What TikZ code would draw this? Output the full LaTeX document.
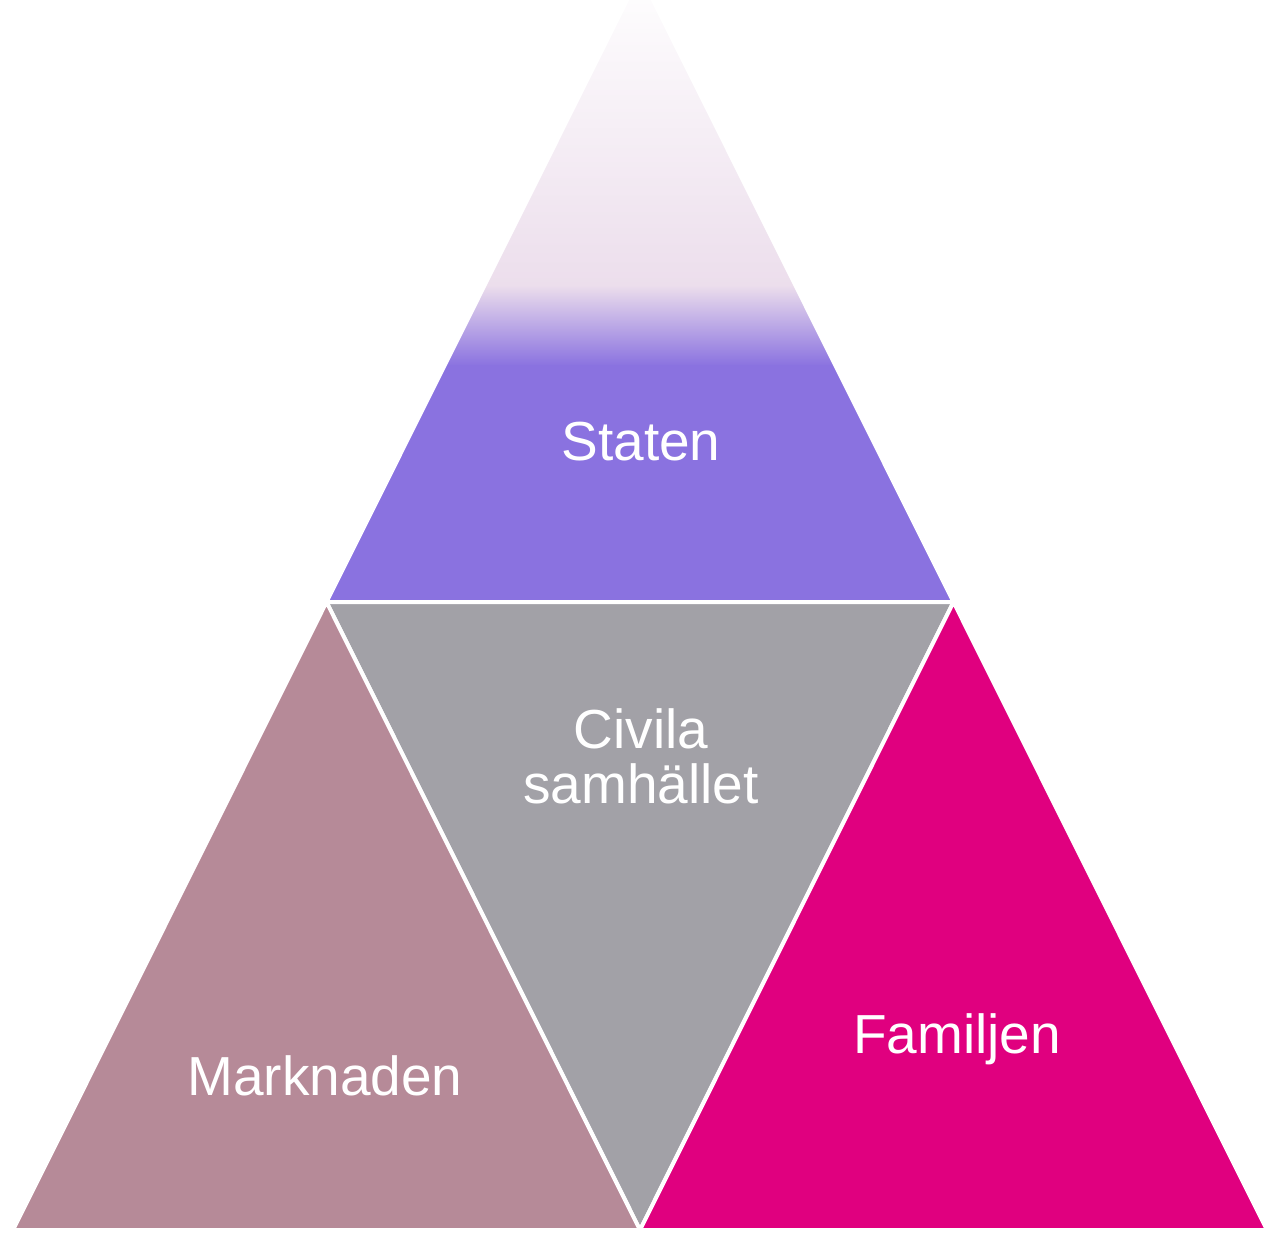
\documentclass[tikz,border=0pt]{standalone}
\usepackage{fontspec}
\setmainfont{Liberation Sans}
\definecolor{staten}{RGB}{138,114,224}
\definecolor{pinkish}{RGB}{236,222,236}
\definecolor{civ}{RGB}{162,161,167}
\definecolor{markn}{RGB}{182,138,152}
\definecolor{fam}{RGB}{224,0,127}
\begin{document}
\begin{tikzpicture}[x=0.5pt,y=-0.5pt,
  lbl/.style={text=white, font=\fontsize{27.5}{27.5}\selectfont, align=center, inner sep=0pt},
  tri/.style={draw=white, line width=2pt, line join=round}]
\useasboundingbox[fill=white] (0,0) rectangle (1266,1233);
\coordinate (A) at (640,-26);
\coordinate (L) at (13,1230);
\coordinate (R) at (1267,1230);
\coordinate (ML) at (326.5,602);
\coordinate (MR) at (953.5,602);
\coordinate (MB) at (640,1230);
% top triangle with gradient
\begin{scope}
  \clip (A) -- (ML) -- (MR) -- cycle;
  \shade[top color=white, bottom color=pinkish] (0,-30) rectangle (1266,286);
  \shade[top color=pinkish, bottom color=staten] (0,285) rectangle (1266,366);
  \fill[staten] (0,365) rectangle (1266,610);
\end{scope}
\draw[tri] (A) -- (ML) -- (MR) -- cycle;
\filldraw[tri, fill=civ] (ML) -- (MR) -- (MB) -- cycle;
\filldraw[tri, fill=markn] (ML) -- (MB) -- (L) -- cycle;
\filldraw[tri, fill=fam] (MR) -- (R) -- (MB) -- cycle;
\node[lbl, anchor=base] (staten) at (641,460) {Staten};
\node[lbl] (civila) at (641,756) {Civila\\samhället};
\node[lbl, anchor=base] (marknaden) at (325,1095) {Marknaden};
\node[lbl, anchor=base] (familjen) at (957,1053) {Familjen};
\end{tikzpicture}
\end{document}
